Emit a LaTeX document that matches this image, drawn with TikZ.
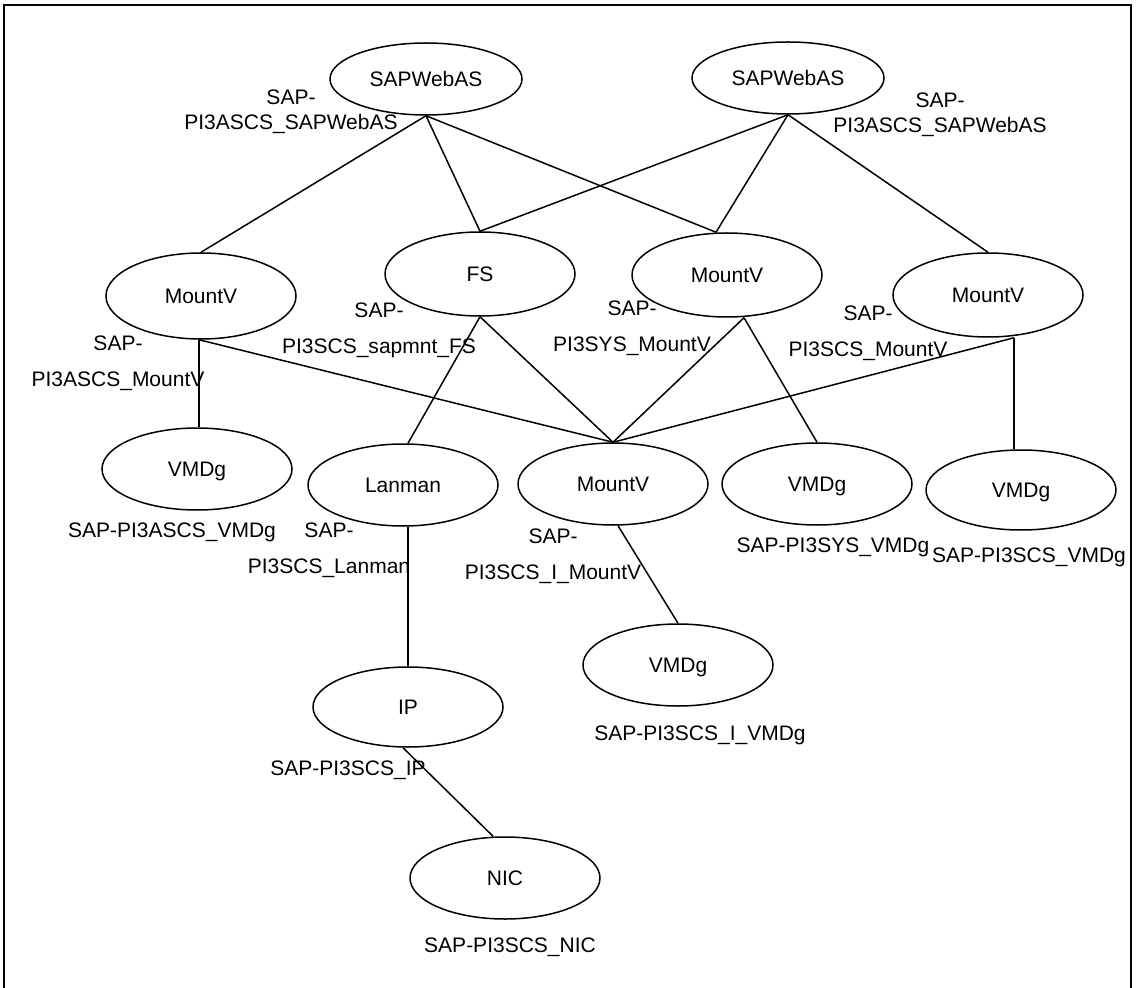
\documentclass[tikz,border=0pt]{standalone}
\usepackage{fontspec}
\setmainfont{Liberation Sans}
\usepackage{xcolor}
\usepackage{tikz}
\usetikzlibrary{shapes}
\usetikzlibrary{calc}
\tikzset{
  MyRes/.style={
    ellipse, draw=black, line width=0.75pt,
    minimum width=95pt, minimum height=41pt, inner sep=0pt,
    text height=7.5pt, text depth=0pt,
    font=\fontsize{10.5}{12.5}\selectfont,
  },
  MyName/.style={
    align=center, inner sep=0pt,
    font=\fontsize{10.5}{12.5}\selectfont,
  },
  MyNameLoose/.style={
    MyName, font=\fontsize{10.5}{18}\selectfont,
  },
  MyLink/.style={line width=0.75pt, draw=black},
}

\begin{document}
\begin{tikzpicture}[x=0.5pt,y=-0.5pt]
\useasboundingbox (0,0) rectangle (1138,988);
\draw[line width=1pt] (4,988) -- (4,5) -- (1131,5) -- (1131,988);
\node[MyRes, minimum width=96pt, minimum height=36pt] (WebAS1) at (426,79) {SAPWebAS};
\node[MyRes, minimum width=96pt, minimum height=36pt] (WebAS2) at (788,78) {SAPWebAS};
\node[MyRes, minimum height=43pt] (MountV1) at (201,296) {MountV};
\node[MyRes, minimum height=42pt] (FS) at (480,274) {FS};
\node[MyRes, minimum height=42pt] (MountV2) at (727,275) {MountV};
\node[MyRes, minimum height=42pt] (MountV3) at (988,295) {MountV};
\node[MyRes] (VMDg1) at (197,469) {VMDg};
\node[MyRes] (Lanman) at (403,485) {Lanman};
\node[MyRes] (MountV4) at (613,484) {MountV};
\node[MyRes] (VMDg2) at (817,484) {VMDg};
\node[MyRes, minimum height=40pt] (VMDg3) at (1021,490) {VMDg};
\node[MyRes] (VMDg4) at (678,665) {VMDg};
\node[MyRes, minimum height=40pt] (IP) at (408,707) {IP};
\node[MyRes] (NIC) at (505,878) {NIC};
\node[MyName] (WebAS1Name) at (291,112) {SAP-\\PI3ASCS\_SAPWebAS};
\node[MyName] (WebAS2Name) at (940,115) {SAP-\\PI3ASCS\_SAPWebAS};
\node[MyNameLoose] (MountV1Name) at (118,363) {SAP-\\PI3ASCS\_MountV};
\node[MyNameLoose] (FSName) at (379,330) {SAP-\\PI3SCS\_sapmnt\_FS};
\node[MyNameLoose] (MountV2Name) at (632,328) {SAP-\\PI3SYS\_MountV};
\node[MyNameLoose] (MountV3Name) at (868,333) {SAP-\\PI3SCS\_MountV};
\node[MyName] (VMDg1Name) at (172,532) {SAP-PI3ASCS\_VMDg};
\node[MyNameLoose] (LanmanName) at (329,550) {SAP-\\PI3SCS\_Lanman};
\node[MyNameLoose] (MountV4Name) at (553,556) {SAP-\\PI3SCS\_I\_MountV};
\node[MyName] (VMDg2Name) at (833,547) {SAP-PI3SYS\_VMDg};
\node[MyName] (VMDg3Name) at (1029,557) {SAP-PI3SCS\_VMDg};
\node[MyName] (VMDg4Name) at (700,735) {SAP-PI3SCS\_I\_VMDg};
\node[MyName] (IPName) at (348,770) {SAP-PI3SCS\_IP};
\node[MyName] (NICName) at (510,947) {SAP-PI3SCS\_NIC};
\draw[MyLink] (WebAS1.south) -- (MountV1.north);
\draw[MyLink] (WebAS1.south) -- (FS.north);
\draw[MyLink] (WebAS1.south) -- ($(MountV2.north)+(-11,0)$);
\draw[MyLink] (WebAS2.south) -- (FS.north);
\draw[MyLink] (WebAS2.south) -- ($(MountV2.north)+(-11,0)$);
\draw[MyLink] (WebAS2.south) -- (MountV3.north);
\draw[MyLink] ($(MountV1.south)+(-2,0)$) -- ($(VMDg1.north)+(2,0)$);
\draw[MyLink] ($(MountV1.south)+(-2,0)$) -- (MountV4.north);
\draw[MyLink] (FS.south) -- ($(Lanman.north)+(5,0)$);
\draw[MyLink] (FS.south) -- (MountV4.north);
\draw[MyLink] ($(MountV2.south)+(17,0)$) -- (MountV4.north);
\draw[MyLink] ($(MountV2.south)+(17,0)$) -- (VMDg2.north);
\draw[MyLink] ($(MountV3.south)+(26,0)$) -- (MountV4.north);
\draw[MyLink] ($(MountV3.south)+(26,0)$) -- ($(VMDg3.north)+(-7,0)$);
\draw[MyLink] ($(Lanman.south)+(5,0)$) -- (IP.north);
\draw[MyLink] ($(MountV4.south)+(5,0)$) -- (VMDg4.north);
\draw[MyLink] ($(IP.south)+(-5,0)$) -- ($(NIC.north)+(-12,0)$);
\end{tikzpicture}
\end{document}
